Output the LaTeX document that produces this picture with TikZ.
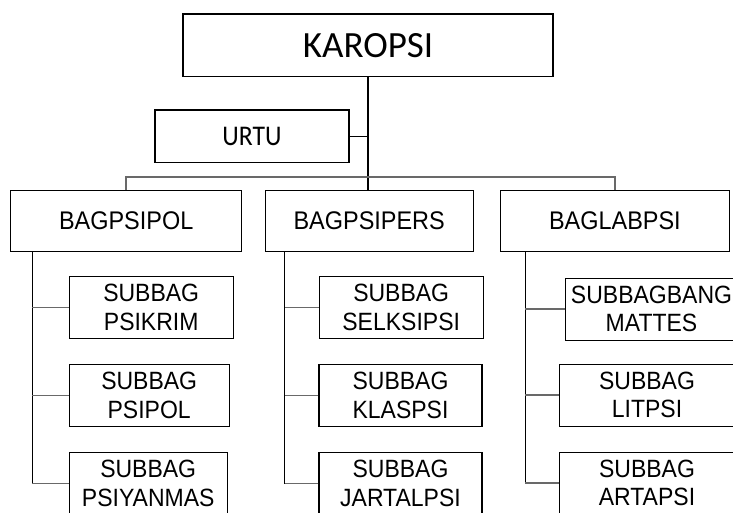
\documentclass[tikz,border=0pt]{standalone}
\usepackage{fontspec}
\setmainfont[FakeStretch=0.92]{Liberation Sans}
\newfontfamily\calib{Carlito}
\newfontfamily\calibn[FakeStretch=0.9]{Carlito}
\begin{document}
\begin{tikzpicture}[x=1pt,y=-1pt,
  box/.style={draw=black,line width=1.1pt,inner sep=0pt,align=center,fill=white},
  subfont/.style={font=\fontsize{25}{28.3}\selectfont},
  bagfont/.style={font=\fontsize{25.5}{28}\selectfont},
  wire/.style={draw=black,line width=1.1pt},
  graywire/.style={draw={rgb,255:red,105;green,105;blue,105},line width=1.7pt}]
\useasboundingbox (0,0) rectangle (733,513);
\clip (0,0) rectangle (733,513);
\fill[white] (0,0) rectangle (733,513);

% top
\node[box,minimum width=370pt,minimum height=62.5pt,font=\calib\fontsize{37}{40}\selectfont] (karopsi) at (368,45.25) {KAROPSI};
\node[box,minimum width=194pt,minimum height=52.3pt,font=\calibn\fontsize{28.5}{30}\selectfont] (urtu) at (252,136.2) {URTU};

% departments
\node[box,bagfont,minimum width=231pt,minimum height=61pt] (bag1) at (126.2,221.2) {BAGPSIPOL};
\node[box,bagfont,minimum width=208.3pt,minimum height=61pt] (bag2) at (369.2,221.2) {BAGPSIPERS};
\node[box,bagfont,minimum width=228.3pt,minimum height=61pt] (bag3) at (614.9,221.2) {BAGLABPSI};

% sub units col 1
\node[box,subfont,minimum width=164.3pt,minimum height=61.6pt] (s11) at (151.2,307.5) {SUBBAG\\PSIKRIM};
\node[box,subfont,minimum width=160.3pt,minimum height=62.4pt] (s12) at (149.2,395.5) {SUBBAG\\PSIPOL};
\node[box,subfont,minimum width=158.3pt,minimum height=61.6pt] (s13) at (148.2,483.5) {SUBBAG\\PSIYANMAS};
% col 2
\node[box,subfont,minimum width=164.3pt,minimum height=61.6pt] (s21) at (401.2,307.5) {SUBBAG\\SELKSIPSI};
\node[box,subfont,minimum width=163pt,minimum height=62.4pt] (s22) at (400.5,395.5) {SUBBAG\\KLASPSI};
\node[box,subfont,minimum width=163pt,minimum height=61.6pt] (s23) at (400.5,483.5) {SUBBAG\\JARTALPSI};
% col 3
\node[box,subfont,minimum width=171.6pt,minimum height=61.7pt] (s31) at (651.5,309.2) {SUBBAGBANG\\MATTES};
\node[box,subfont,minimum width=175.4pt,minimum height=61.7pt] (s32) at (647,395.2) {SUBBAG\\LITPSI};
\node[box,subfont,minimum width=175.4pt,minimum height=61.7pt] (s33) at (647,483.2) {SUBBAG\\ARTAPSI};

% trunk
\draw[wire] (karopsi.south) -- (karopsi.south |- bag2.north);
\draw[wire] (urtu.east) -- (urtu.east -| karopsi.south);
\coordinate (bus) at (0,176.7);
\draw[graywire] (bag1.north) -- (bag1.north |- bus) -| (bag3.north);

% vertical lines from departments
\path (bag1.south west) ++(22,0) coordinate (v1);
\path (bag2.south west) ++(20,0) coordinate (v2);
\path (bag3.south west) ++(25,0) coordinate (v3);
\draw[wire] (v1) -- (v1 |- s13.west);
\draw[wire] (v2) -- (v2 |- s23.west);
\draw[wire] (v3) -- (v3 |- s33.west);
\foreach \s/\v in {s11/v1,s12/v1,s13/v1,s21/v2,s22/v2,s23/v2,s31/v3,s32/v3,s33/v3}{
  \draw[graywire] (\s.west) -- (\s.west -| \v);
}
\end{tikzpicture}
\end{document}
